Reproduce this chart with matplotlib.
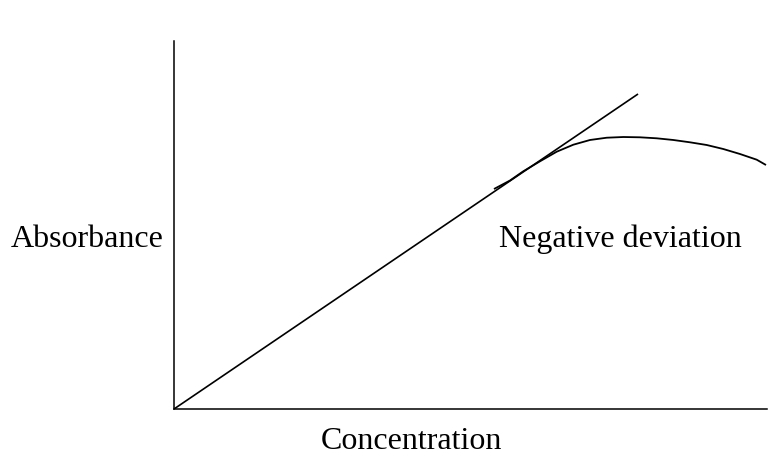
import matplotlib
matplotlib.use("Agg")
import matplotlib.pyplot as plt

# Beer-Lambert sketch: ideal straight line and the curve that bends away
ideal_x = [0, 78.25]
ideal_y = [0, 85.6]

# negative deviation curve
dev_x = [53.96, 56.66, 58.85, 61.72, 64.54, 67.34, 70.15, 72.97, 75.77, 78.58,
         81.40, 84.20, 87.02, 89.83, 92.63, 95.45, 98.26, 99.83]
dev_y = [59.78, 62.09, 64.54, 67.31, 69.92, 71.82, 73.10, 73.72, 73.91, 73.83,
         73.56, 73.10, 72.47, 71.74, 70.65, 69.29, 67.75, 66.30]

x_label = "Concentration"
y_label = "Absorbance"
curve_label = "Negative deviation"

plt.rcParams['font.family'] = ['Liberation Serif', 'DejaVu Serif']

fig = plt.figure(figsize=(7.68, 4.56), dpi=100)
ax = fig.add_axes([174/768, 46/456, 593/768, 368/456])

ax.plot(ideal_x, ideal_y, color='black', lw=1.2, solid_capstyle='butt')
ax.plot(dev_x, dev_y, color='black', lw=1.3, solid_capstyle='butt',
        solid_joinstyle='round')

ax.set_xlim(0, 100)
ax.set_ylim(0, 100)
ax.spines['top'].set_visible(False)
ax.spines['right'].set_visible(False)
ax.spines['left'].set_linewidth(1.1)
ax.spines['bottom'].set_linewidth(1.1)
ax.set_xticks([])
ax.set_yticks([])

# labels placed by baseline
fig.text(499/768, 1 - 247/456, curve_label, fontsize=23, ha='left', va='baseline')
fig.text(11/768, 1 - 247/456, y_label, fontsize=23, ha='left', va='baseline')
fig.text(411/768, 1 - 449/456, x_label, fontsize=23, ha='center', va='baseline')

fig.savefig("out.png", dpi=100)
